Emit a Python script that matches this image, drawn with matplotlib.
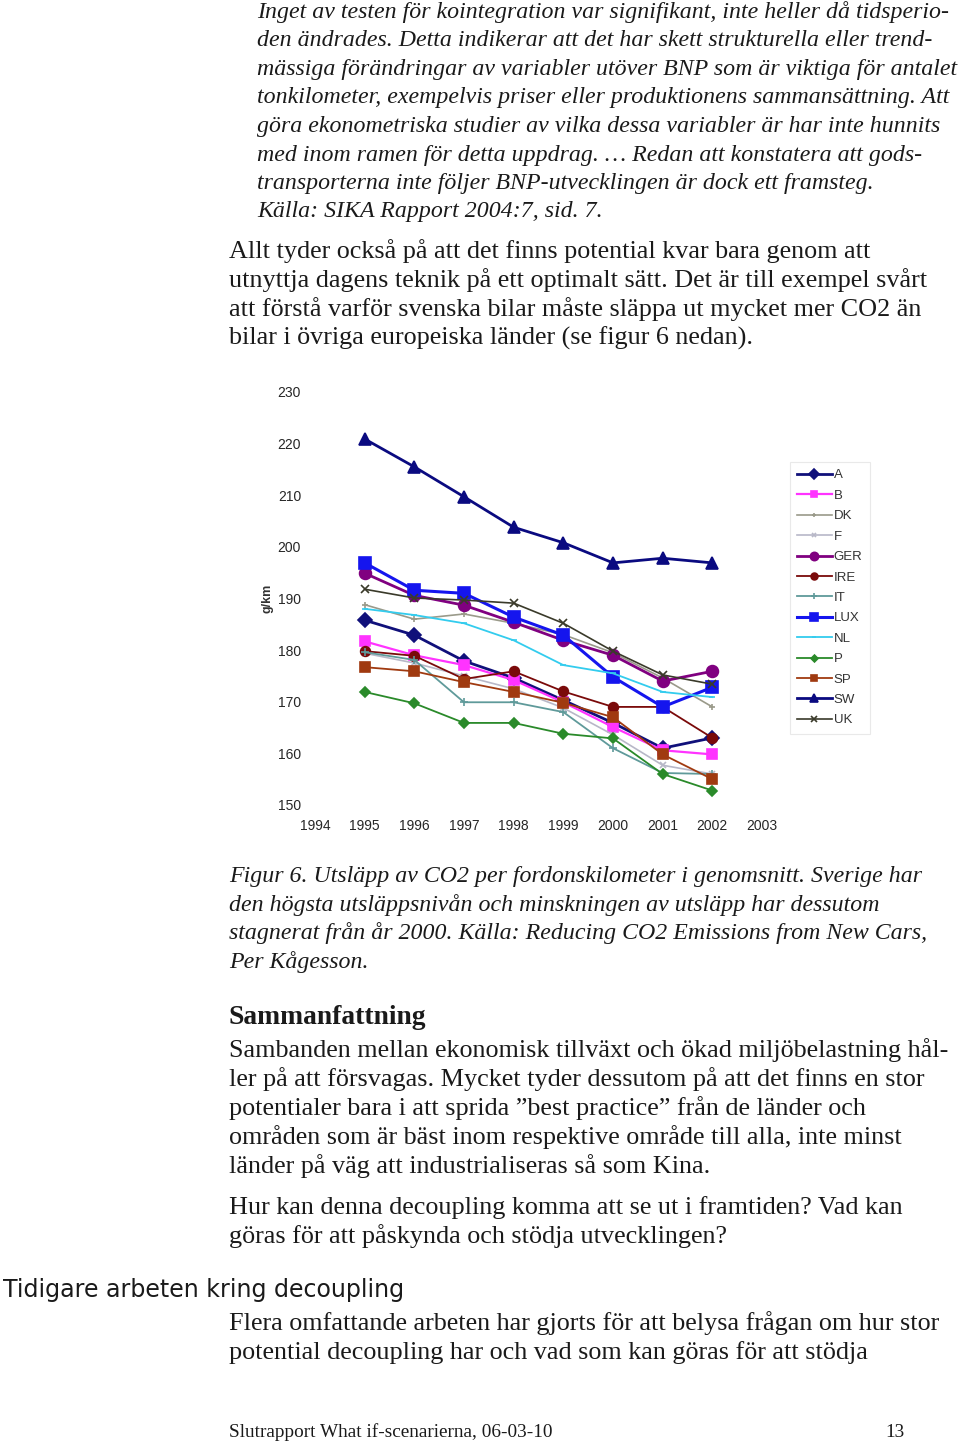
import numpy as np
import matplotlib.pyplot as plt

W, H = 960, 1446

def fx(x):
    return x / W

def fy(y):
    return 1 - y / H

# ---- chart data (g/km) ----
years = [1995, 1996, 1997, 1998, 1999, 2000, 2001, 2002]
countries = ["A", "B", "DK", "F", "GER", "IRE", "IT", "LUX", "NL", "P", "SP", "SW", "UK"]

A = [185.8, 182.9, 177.9, 174.6, 170.3, 165.9, 161.0, 163.0]
B = [181.7, 179.0, 177.1, 174.2, 169.9, 165.1, 160.6, 159.8]
DK = [188.8, 186.0, 187.0, 185.2, 183.0, 179.5, 174.6, 169.0]
F = [179.4, 177.5, 175.0, 172.5, 168.8, 163.6, 157.7, 156.0]
GER = [194.9, 190.6, 188.7, 185.4, 181.9, 179.0, 174.0, 175.9]
IRE = [179.8, 178.9, 174.4, 175.9, 172.0, 169.0, 169.0, 163.0]
IT = [179.6, 178.1, 169.9, 169.9, 168.0, 161.0, 156.2, 156.0]
LUX = [196.9, 191.6, 191.0, 186.4, 182.9, 174.8, 169.0, 172.8]
NL = [188.0, 186.8, 185.2, 181.9, 177.1, 175.5, 171.9, 170.9]
P = [171.9, 169.7, 165.9, 165.9, 163.8, 162.9, 156.0, 152.8]
SP = [176.7, 175.9, 173.8, 171.9, 169.8, 167.0, 159.8, 155.0]
SW = [220.9, 215.5, 209.7, 203.8, 200.8, 196.9, 197.8, 196.9]
UK = [191.8, 190.1, 189.7, 189.1, 185.2, 179.8, 175.2, 173.4]

series = {"A": A, "B": B, "DK": DK, "F": F, "GER": GER, "IRE": IRE, "IT": IT,
          "LUX": LUX, "NL": NL, "P": P, "SP": SP, "SW": SW, "UK": UK}

# colour, marker, markersize, linewidth
styles = {
    "A": ("#10107a", "D", 7, 2.0),
    "B": ("#ff33ff", "s", 7, 1.6),
    "DK": ("#9a9a8a", "+", 4, 1.2),
    "F": ("#b8b8c8", "x", 5, 1.2),
    "GER": ("#800080", "o", 8.5, 2.0),
    "IRE": ("#7a0a0a", "o", 7, 1.3),
    "IT": ("#5f9a9a", "+", 6, 1.3),
    "LUX": ("#1515ee", "s", 8.5, 2.2),
    "NL": ("#33ccee", "_", 4, 1.3),
    "P": ("#2a8a2a", "D", 5, 1.3),
    "SP": ("#a03a10", "s", 7, 1.3),
    "SW": ("#0a0a80", "^", 9, 2.0),
    "UK": ("#3a3a2a", "x", 6, 1.2),
}

plt.rcParams["font.family"] = ["Liberation Serif", "DejaVu Serif"]

fig = plt.figure(figsize=(W / 100, H / 100), dpi=100)

BODY = 18.8
ITAL = 17.2

# ---- text above the chart ----
quote = [
    "Inget av testen för kointegration var signifikant, inte heller då tidsperio-",
    "den ändrades. Detta indikerar att det har skett strukturella eller trend-",
    "mässiga förändringar av variabler utöver BNP som är viktiga för antalet",
    "tonkilometer, exempelvis priser eller produktionens sammansättning. Att",
    "göra ekonometriska studier av vilka dessa variabler är har inte hunnits",
    "med inom ramen för detta uppdrag. … Redan att konstatera att gods-",
    "transporterna inte följer BNP-utvecklingen är dock ett framsteg.",
    "Källa: SIKA Rapport 2004:7, sid. 7.",
]
for i, line in enumerate(quote):
    fig.text(fx(257), fy(18 + 28.5 * i), line, fontsize=ITAL, style="italic",
             va="baseline", ha="left", color="#1a1a1a")

para1 = [
    "Allt tyder också på att det finns potential kvar bara genom att",
    "utnyttja dagens teknik på ett optimalt sätt. Det är till exempel svårt",
    "att förstå varför svenska bilar måste släppa ut mycket mer CO2 än",
    "bilar i övriga europeiska länder (se figur 6 nedan).",
]
for i, line in enumerate(para1):
    fig.text(fx(229), fy(258 + 29 * i), line, fontsize=BODY, va="baseline",
             ha="left", color="#1a1a1a")

# ---- the chart ----
ax = fig.add_axes([fx(315), fy(805), (762 - 315) / W, (805 - 392) / H])
for c in countries:
    col, mk, ms, lw = styles[c]
    ax.plot(years, series[c], color=col, marker=mk, markersize=ms, linewidth=lw,
            markeredgecolor=col, markeredgewidth=1.2, label=c)

ax.set_xlim(1994, 2003)
ax.set_ylim(150, 230)
ax.set_xticks(range(1994, 2004))
ax.set_yticks(range(150, 231, 10))
ax.tick_params(length=0, labelsize=10, labelcolor="#262626", pad=10)
for lab in ax.get_xticklabels() + ax.get_yticklabels():
    lab.set_family(["Liberation Sans", "DejaVu Sans"])
for s in ax.spines.values():
    s.set_visible(False)

fig.text(fx(268), fy(598), "g/km", rotation=90, fontsize=9, fontweight="bold",
         family=["Liberation Sans", "DejaVu Sans"], color="#333333",
         ha="center", va="center")

leg = ax.legend(loc="upper left", bbox_to_anchor=(fx(790), fy(462)),
                bbox_transform=fig.transFigure, fontsize=9.5, frameon=True,
                fancybox=False, handlelength=2.6, handletextpad=0.15,
                labelspacing=0.62, borderpad=0.55, borderaxespad=0,
                markerscale=0.7)
leg.get_frame().set_edgecolor("#e4e4e4")
leg.get_frame().set_linewidth(0.8)
for t in leg.get_texts():
    t.set_family(["Liberation Sans", "DejaVu Sans"])
    t.set_color("#333333")

# ---- caption and following text ----
caption = [
    "Figur 6. Utsläpp av CO2 per fordonskilometer i genomsnitt. Sverige har",
    "den högsta utsläppsnivån och minskningen av utsläpp har dessutom",
    "stagnerat från år 2000. Källa: Reducing CO2 Emissions from New Cars,",
    "Per Kågesson.",
]
for i, line in enumerate(caption):
    fig.text(fx(229), fy(882 + 28.7 * i), line, fontsize=ITAL, style="italic",
             va="baseline", ha="left", color="#1a1a1a")

fig.text(fx(229), fy(1024), "Sammanfattning", fontsize=19.8, fontweight="bold",
         va="baseline", ha="left", color="#1a1a1a")

para2 = [
    "Sambanden mellan ekonomisk tillväxt och ökad miljöbelastning hål-",
    "ler på att försvagas. Mycket tyder dessutom på att det finns en stor",
    "potentialer bara i att sprida ”best practice” från de länder och",
    "områden som är bäst inom respektive område till alla, inte minst",
    "länder på väg att industrialiseras så som Kina.",
]
for i, line in enumerate(para2):
    fig.text(fx(229), fy(1057 + 29 * i), line, fontsize=BODY, va="baseline",
             ha="left", color="#1a1a1a")

para3 = [
    "Hur kan denna decoupling komma att se ut i framtiden? Vad kan",
    "göras för att påskynda och stödja utvecklingen?",
]
for i, line in enumerate(para3):
    fig.text(fx(229), fy(1214 + 29 * i), line, fontsize=BODY, va="baseline",
             ha="left", color="#1a1a1a")

fig.text(fx(3), fy(1297), "Tidigare arbeten kring decoupling", fontsize=17.1,
         family=["DejaVu Sans"], va="baseline", ha="left", color="#1a1a1a")

para4 = [
    "Flera omfattande arbeten har gjorts för att belysa frågan om hur stor",
    "potential decoupling har och vad som kan göras för att stödja",
]
for i, line in enumerate(para4):
    fig.text(fx(229), fy(1330 + 29 * i), line, fontsize=BODY, va="baseline",
             ha="left", color="#1a1a1a")

fig.text(fx(229), fy(1437), "Slutrapport What if-scenarierna, 06-03-10",
         fontsize=13.85, va="baseline", ha="left", color="#1a1a1a")
fig.text(fx(905), fy(1437), "13", fontsize=13.85, va="baseline", ha="right",
         color="#1a1a1a")

fig.savefig("out.png", dpi=100)
